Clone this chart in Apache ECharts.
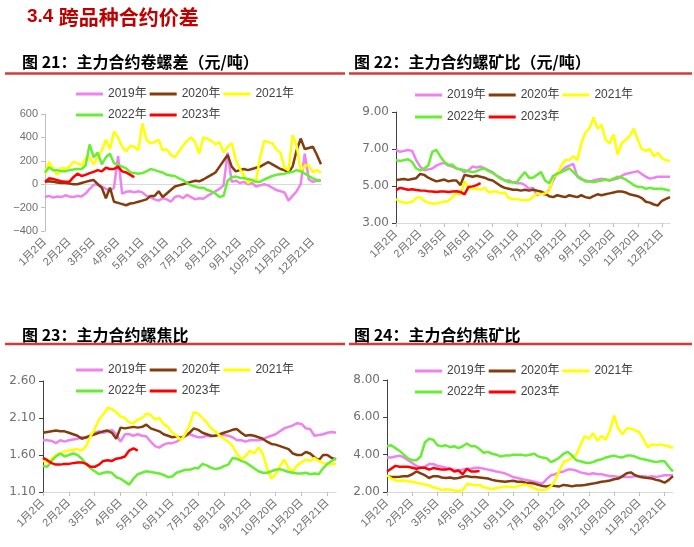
<!DOCTYPE html>
<html><head><meta charset="utf-8">
<script src="https://cdn.jsdelivr.net/npm/echarts@6/dist/echarts.min.js"></script>
<style>html,body{margin:0;padding:0;background:#fff}#c{width:694px;height:547px}</style>
</head><body><div id="c"></div><script>
// ---------- data ----------
const tickLabels = ['1月2日','2月2日','3月5日','4月6日','5月11日','6月11日','7月12日','8月12日','9月12日','10月20日','11月20日','12月21日'];
const seriesNames = ['2019年','2020年','2021年','2022年','2023年'];

// 图21 主力合约卷螺差（元/吨）
const hrcRebar2019 = [-110,-100,-115,-105,-110,-95,-105,-110,-100,-105,-80,-40,-5,0,-20,-40,-55,-30,240,-80,-65,-60,-70,-60,-70,-100,-110,-130,-140,-120,-130,-150,-110,-100,-120,-90,-110,-130,-120,-125,-100,-80,-60,-40,-10,270,20,30,10,20,0,10,-20,-10,0,-10,-30,-50,-60,-70,-140,-100,-60,0,260,40,20,30,30];
const hrcRebar2020 = [20,25,20,15,10,10,5,0,0,10,20,30,35,0,-30,-120,-30,-150,-160,-170,-180,-165,-160,-150,-140,-130,-100,-100,-60,-110,-80,-50,-20,-10,0,10,20,30,25,40,60,80,100,150,200,250,150,110,120,130,120,130,140,150,170,190,170,150,130,120,100,150,290,390,300,310,320,250,170];
const hrcRebar2021 = [90,190,130,80,140,130,150,190,180,160,220,230,170,230,290,380,300,450,400,320,280,330,320,290,520,380,350,360,380,290,300,250,230,280,330,370,400,360,260,400,390,370,340,360,270,320,350,210,130,75,10,40,30,230,370,360,350,300,270,140,120,420,330,110,160,160,100,120,100];
const hrcRebar2022 = [100,145,120,120,110,110,120,125,130,130,160,340,230,270,170,230,260,180,165,150,135,100,95,90,95,110,130,120,110,100,80,75,70,50,35,10,-10,-20,-30,-30,-50,-60,-80,-110,-100,30,60,65,55,50,45,35,20,20,40,55,70,80,85,90,100,105,120,110,90,70,50,35,30];
const hrcRebar2023 = [20,50,45,35,25,20,20,60,90,70,80,95,105,120,110,140,130,130,150,110,100,80,60];

// 图22 主力合约螺矿比
const rebarOre2019 = [6.95,6.85,6.9,6.95,6.9,6.4,6.05,5.85,5.9,5.95,6.1,6.2,6.25,6.1,6.05,5.95,5.9,5.75,5.85,6.05,6.0,6.05,5.95,5.85,5.75,5.55,5.45,5.3,5.3,5.2,5.15,5.15,5.05,4.85,4.9,4.5,4.65,4.5,4.8,5.3,5.7,5.8,6.0,6.1,6.2,5.5,5.35,5.3,5.25,5.3,5.35,5.4,5.35,5.3,5.35,5.4,5.55,5.65,5.7,5.75,5.8,5.65,5.5,5.4,5.45,5.5,5.5,5.5,5.5];
const rebarOre2020 = [5.33,5.35,5.38,5.33,5.38,5.42,5.65,5.6,5.45,5.35,5.25,5.3,5.35,5.25,5.3,5.3,5.05,5.6,5.55,5.5,5.55,5.5,5.45,5.35,5.3,5.15,5.0,4.9,4.85,4.8,4.8,4.75,4.8,4.75,4.8,4.75,4.7,4.6,4.45,4.4,4.5,4.45,4.4,4.5,4.45,4.4,4.5,4.4,4.35,4.45,4.55,4.5,4.55,4.6,4.65,4.7,4.7,4.65,4.55,4.5,4.45,4.35,4.15,4.1,4.0,3.95,4.2,4.3,4.4];
const rebarOre2021 = [4.3,4.15,4.1,4.1,4.15,4.35,4.4,4.2,4.1,4.05,4.05,4.1,4.15,4.2,4.4,4.6,4.55,5.25,4.9,4.85,4.85,4.8,4.9,4.65,4.7,4.7,4.6,4.65,4.35,4.3,4.3,4.25,4.25,4.25,4.4,4.6,4.55,4.6,4.7,5.5,5.6,6.1,6.4,6.4,6.6,6.4,7.3,7.9,8.1,8.7,8.1,8.3,7.5,7.3,7.8,6.7,7.3,7.5,7.7,8.1,7.5,7.0,6.9,7.0,6.6,6.8,6.5,6.4,6.35];
const rebarOre2022 = [6.4,6.35,6.4,6.45,6.3,5.95,5.85,5.95,6.1,6.85,6.95,6.6,6.3,6.15,6.15,5.95,5.9,5.85,5.8,5.75,5.8,5.9,5.95,5.8,5.7,5.55,5.4,5.3,5.2,5.2,5.2,5.5,5.75,5.45,5.45,5.6,5.75,5.3,5.15,5.55,5.65,5.75,5.85,5.95,5.75,5.55,5.4,5.25,5.25,5.2,5.25,5.3,5.35,5.3,5.4,5.5,5.45,5.35,5.2,5.05,4.95,4.95,4.85,4.9,4.85,4.85,4.85,4.8,4.75];
const rebarOre2023 = [4.78,4.9,4.85,4.8,4.82,4.78,4.76,4.75,4.72,4.7,4.68,4.7,4.7,4.68,4.7,4.72,4.68,4.55,4.95,4.98,5.05,5.15];

// 图23 主力合约螺焦比
const rebarCoke2019 = [1.80,1.80,1.79,1.76,1.80,1.78,1.80,1.81,1.82,1.84,1.83,1.86,1.90,1.92,1.90,1.92,1.94,1.88,1.78,1.88,1.88,1.86,1.88,1.86,1.85,1.78,1.72,1.70,1.74,1.76,1.76,1.78,1.82,1.85,1.88,1.86,1.84,1.84,1.86,1.85,1.86,1.88,1.87,1.86,1.84,1.80,1.80,1.78,1.80,1.80,1.80,1.81,1.84,1.86,1.88,1.92,1.96,1.98,2.00,2.03,2.02,1.96,1.95,1.86,1.87,1.88,1.90,1.91,1.90];
const rebarCoke2020 = [1.90,1.91,1.92,1.93,1.92,1.92,1.90,1.88,1.86,1.82,1.84,1.86,1.88,1.90,1.92,1.93,1.90,1.82,1.97,1.96,1.97,1.98,1.97,1.98,2.01,1.96,1.94,1.92,1.88,1.86,1.84,1.85,1.83,1.86,1.90,1.96,1.94,1.90,1.88,1.86,1.86,1.88,1.90,1.92,1.94,1.95,1.90,1.86,1.87,1.86,1.84,1.82,1.78,1.75,1.74,1.72,1.70,1.68,1.62,1.60,1.60,1.64,1.62,1.57,1.53,1.60,1.60,1.56,1.54];
const rebarCoke2021 = [1.52,1.50,1.55,1.60,1.62,1.65,1.66,1.67,1.68,1.66,1.72,1.85,1.95,2.08,2.15,2.24,2.22,2.18,2.12,2.10,2.04,2.03,2.08,2.10,2.16,2.14,2.08,2.10,2.02,1.98,1.90,1.86,1.80,1.88,2.00,2.18,2.16,2.10,2.04,1.96,1.92,1.86,1.82,1.78,1.72,1.62,1.55,1.58,1.66,1.62,1.70,1.62,1.42,1.28,1.34,1.45,1.54,1.42,1.38,1.46,1.50,1.54,1.52,1.56,1.52,1.49,1.47,1.48,1.48];
const rebarCoke2022 = [1.45,1.44,1.52,1.58,1.62,1.58,1.60,1.62,1.60,1.55,1.48,1.42,1.38,1.34,1.36,1.37,1.36,1.30,1.28,1.24,1.20,1.28,1.34,1.36,1.38,1.37,1.36,1.35,1.33,1.30,1.31,1.36,1.38,1.40,1.40,1.42,1.42,1.48,1.46,1.43,1.41,1.42,1.45,1.47,1.56,1.55,1.52,1.50,1.46,1.42,1.38,1.36,1.36,1.38,1.40,1.41,1.39,1.37,1.36,1.35,1.35,1.36,1.34,1.35,1.34,1.42,1.48,1.52,1.56];
const rebarCoke2023 = [1.56,1.53,1.49,1.47,1.47,1.48,1.48,1.49,1.50,1.50,1.48,1.44,1.44,1.47,1.52,1.53,1.52,1.55,1.56,1.58,1.66,1.69,1.66];

// 图24 主力合约焦矿比
const cokeOre2019 = [3.85,3.85,3.9,3.95,3.85,3.70,3.55,3.40,3.30,3.35,3.50,3.50,3.40,3.35,3.30,3.25,3.20,3.15,3.20,3.25,3.25,3.30,3.30,3.25,3.20,3.15,3.10,3.05,3.00,2.90,2.80,2.75,2.70,2.65,2.60,2.55,2.50,2.45,2.70,2.90,2.95,3.05,3.10,3.20,3.20,3.15,3.05,3.00,2.95,3.00,2.95,2.95,2.90,2.85,2.85,2.80,2.80,2.80,2.80,2.85,2.85,2.85,2.80,2.85,2.80,2.85,2.90,2.90,2.90];
const cokeOre2020 = [2.85,2.80,2.80,2.82,2.85,2.85,2.95,3.10,3.00,2.90,2.75,2.85,2.85,2.78,2.75,2.78,2.72,2.75,2.82,2.85,2.80,2.80,2.78,2.75,2.72,2.65,2.60,2.58,2.55,2.58,2.60,2.55,2.55,2.50,2.48,2.45,2.38,2.32,2.30,2.35,2.32,2.30,2.38,2.35,2.30,2.35,2.35,2.38,2.42,2.45,2.50,2.55,2.58,2.62,2.68,2.72,2.85,3.00,3.05,2.90,2.82,2.78,2.75,2.72,2.65,2.60,2.50,2.65,2.85];
const cokeOre2021 = [2.90,2.72,2.62,2.60,2.62,2.58,2.55,2.50,2.45,2.40,2.35,2.25,2.20,2.10,2.15,2.12,2.08,2.05,2.10,2.42,2.40,2.36,2.38,2.25,2.20,2.15,2.22,2.25,2.30,2.28,2.25,2.30,2.38,2.40,2.30,2.20,2.12,2.10,2.15,2.30,2.65,3.15,3.60,3.70,3.85,4.00,4.50,5.00,4.85,5.15,4.75,5.00,4.80,5.30,6.10,5.40,5.10,5.40,5.40,5.30,5.20,4.80,4.40,4.55,4.50,4.55,4.50,4.45,4.35];
const cokeOre2022 = [4.45,4.50,4.35,4.20,4.00,3.80,3.70,3.70,3.90,4.65,4.85,4.80,4.50,4.45,4.50,4.40,4.45,4.35,4.45,4.60,4.45,4.45,4.30,4.10,4.15,4.05,4.00,3.90,3.95,3.95,4.00,4.00,4.00,3.95,4.00,4.05,3.90,3.85,3.80,3.60,3.70,3.85,4.05,4.15,3.95,3.70,3.65,3.58,3.55,3.60,3.70,3.75,3.85,3.90,3.95,3.88,3.85,3.95,3.95,3.90,3.80,3.75,3.70,3.65,3.60,3.65,3.65,3.35,3.10];
const cokeOre2023 = [3.10,3.25,3.40,3.35,3.35,3.35,3.30,3.25,3.30,3.30,3.20,3.28,3.25,3.20,3.20,3.25,3.10,3.15,2.95,3.25,3.10,3.10,3.12];

// ---------- chart ----------
const STEP = 6;                       // samples between two labelled dates
const N = hrcRebar2019.length;        // samples per year
const categories = Array.from({length: N}, (_, i) => i % STEP === 0 ? tickLabels[i / STEP] : 'd' + i);
const showTick = (i) => i % STEP === 0 && i / STEP < tickLabels.length;

const colors = ['#EE82EE', '#843C0C', '#FFFF00', '#66EE33', '#FF0000'];
const FONT = '"Liberation Sans", Arial, "Noto Sans CJK SC", sans-serif';
const WIDE = '"DejaVu Sans", "Liberation Sans", sans-serif';
const CJK = '"Noto Sans CJK SC", sans-serif';

const panels = [
  {data: [hrcRebar2019, hrcRebar2020, hrcRebar2021, hrcRebar2022, hrcRebar2023], min: -400, max: 600, interval: 200,
   fmt: v => v < 0 ? '\u2212' + Math.abs(v) : String(v), yFont: FONT, yColor: '#bfbfbf',
   grid: {left: 45, top: 114, width: 276, height: 117}, legendLeft: 76, legendTop: [88, 109], axisLine: false},
  {data: [rebarOre2019, rebarOre2020, rebarOre2021, rebarOre2022, rebarOre2023], min: 3, max: 9, interval: 2,
   fmt: v => v.toFixed(2), yFont: WIDE, yColor: '#404040',
   grid: {left: 396, top: 112, width: 274, height: 111}, legendLeft: 415, legendTop: [89, 111], axisLine: true},
  {data: [rebarCoke2019, rebarCoke2020, rebarCoke2021, rebarCoke2022, rebarCoke2023], min: 1.1, max: 2.6, interval: 0.5,
   fmt: v => v.toFixed(2), yFont: WIDE, yColor: '#404040',
   grid: {left: 43, top: 381, width: 293, height: 111}, legendLeft: 76, legendTop: [364, 385], axisLine: true},
  {data: [cokeOre2019, cokeOre2020, cokeOre2021, cokeOre2022, cokeOre2023], min: 2, max: 8, interval: 2,
   fmt: v => v.toFixed(2), yFont: WIDE, yColor: '#404040',
   grid: {left: 387, top: 380, width: 286, height: 112}, legendLeft: 415, legendTop: [365, 386], axisLine: true}
];

const grid = [], xAxis = [], yAxis = [], series = [], legend = [];
panels.forEach((p, k) => {
  grid.push(Object.assign({containLabel: false}, p.grid));
  xAxis.push({
    type: 'category', gridIndex: k, data: categories, boundaryGap: false,
    axisLine: {show: p.axisLine, onZero: false, lineStyle: {color: '#d9d9d9', width: 1}},
    axisTick: {show: p.axisLine, interval: showTick, length: 4, lineStyle: {color: '#bfbfbf'}},
    axisLabel: {interval: showTick, rotate: 45, fontSize: 11, color: '#6f6f6f', fontFamily: FONT, margin: 9},
    splitLine: {show: false}
  });
  yAxis.push({
    type: 'value', gridIndex: k, min: p.min, max: p.max, interval: p.interval,
    axisLine: {show: true, lineStyle: {color: p.yColor, width: 1}},
    axisTick: {show: true, length: 4, lineStyle: {color: p.yColor}},
    axisLabel: {formatter: p.fmt, fontSize: k === 0 ? 11 : 12, color: '#6f6f6f', fontFamily: p.yFont, margin: 7},
    splitLine: {show: false}
  });
  p.data.forEach((arr, s) => {
    series.push({
      type: 'line', name: seriesNames[s], xAxisIndex: k, yAxisIndex: k, data: arr,
      showSymbol: false, symbol: 'none', smooth: false,
      lineStyle: {color: colors[s], width: 2.5}, itemStyle: {color: colors[s]},
      emphasis: {disabled: true}, animation: false, z: 2 + s
    });
  });
  const legBase = {
    orient: 'horizontal', left: p.legendLeft, padding: 0, icon: 'rect',
    itemWidth: 27, itemHeight: 3, itemGap: 3,
    textStyle: {color: '#404040', fontSize: 12, fontFamily: FONT}
  };
  legend.push(Object.assign({}, legBase, {top: p.legendTop[0], data: seriesNames.slice(0, 3)}));
  legend.push(Object.assign({}, legBase, {top: p.legendTop[1], data: seriesNames.slice(3)}));
});
// zero line of the first panel (axis line sitting on 0, labels stay at bottom)
xAxis.push({
  type: 'category', gridIndex: 0, data: categories, boundaryGap: false, position: 'top',
  axisLine: {show: true, onZero: true, lineStyle: {color: '#d9d9d9', width: 1}},
  axisTick: {show: false}, axisLabel: {show: false}, splitLine: {show: false}
});

const titles = [
  {text: '图 21：主力合约卷螺差（元/吨）', x: 22, y: 54},
  {text: '图 22：主力合约螺矿比（元/吨）', x: 354, y: 54},
  {text: '图 23：主力合约螺焦比', x: 22, y: 327},
  {text: '图 24：主力合约焦矿比', x: 354, y: 327}
];
const graphic = [
  {type: 'text', left: 27, top: 7, style: {
    text: '{a|3.4 }{b|跨品种合约价差}',
    rich: {a: {fontSize: 19, fontWeight: 'bold', fontFamily: FONT, fill: '#C00000'},
           b: {fontSize: 20, fontWeight: 'bold', fontFamily: CJK, fill: '#C00000'}}}}
];
titles.forEach(t => graphic.push({type: 'text', left: t.x, top: t.y,
  style: {text: t.text, fill: '#000', font: 'bold 16px ' + CJK}}));
[[5, 345, 73.5], [349, 692, 73.5], [5, 345, 344], [349, 692, 344]].forEach(l => graphic.push({
  type: 'line', shape: {x1: l[0], y1: l[2], x2: l[1], y2: l[2]},
  style: {stroke: '#D43A3A', lineWidth: 2.5}, silent: true}));

const chart = echarts.init(document.getElementById('c'), null, {renderer: 'canvas'});
chart.setOption({
  backgroundColor: '#fff', animation: false,
  grid, xAxis, yAxis, series, legend, graphic
});
</script></body></html>
